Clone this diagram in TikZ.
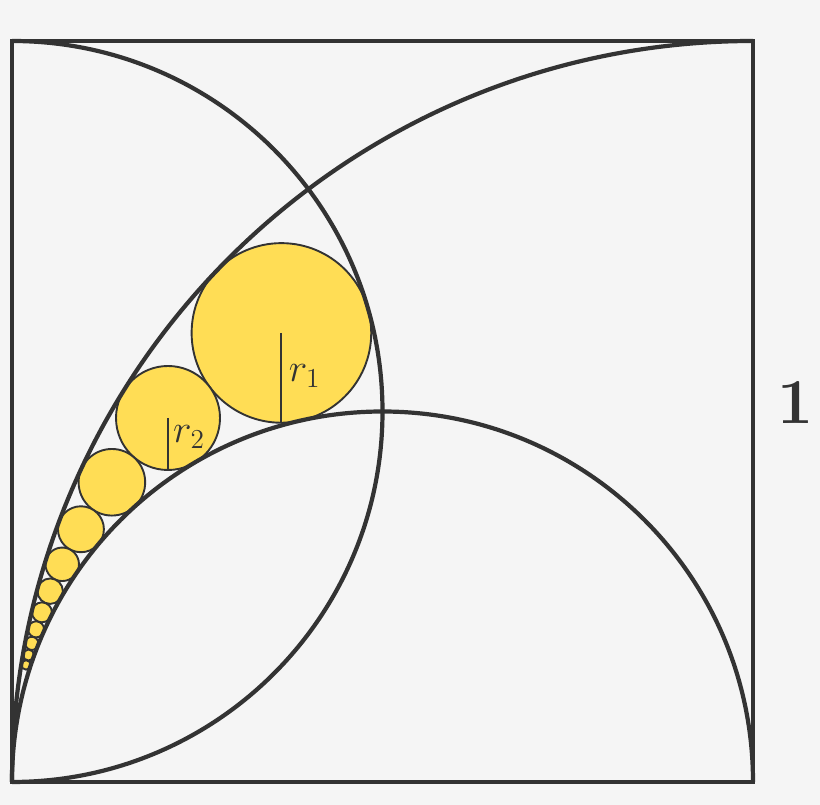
\documentclass[tikz,border=0pt]{standalone}
\usepackage{amsmath}
\definecolor{bg}{HTML}{F5F5F5}
\definecolor{ink}{HTML}{333333}
\definecolor{gold}{HTML}{FFDD55}
\tikzset{
  frame/.style={draw=ink, line width=4.2pt},
  ball/.style={draw=ink, fill=gold, line width=1.9pt},
  radius line/.style={draw=ink, line width=2pt},
  lbl/.style={text=ink, inner sep=0pt},
  mlbl/.style={lbl, font=\fontsize{20}{24}\selectfont, scale=1.9, transform shape},
}
\begin{document}
\begin{tikzpicture}[x=1pt,y=1pt]
\fill[bg] (0,0) rectangle (820,805);
\useasboundingbox (0,0) rectangle (820,805);
\begin{scope}[shift={(12pt,23pt)}, x=741pt, y=741pt]
  % chain circles
  \foreach \k in {0,...,10}{
    \pgfmathsetmacro\yk{1.25+0.5*\k}
    \pgfmathsetmacro\dd{0.5+\yk*\yk}
    \pgfmathsetmacro\cx{0.75/\dd}
    \pgfmathsetmacro\cy{\yk/\dd}
    \pgfmathsetmacro\rr{0.25/\dd}
    \draw[ball] (\cx,\cy) circle[radius=\rr];
  }
  % radii
  \coordinate (c1) at (12/33,20/33);
  \coordinate (b1) at (12/33,16/33);
  \coordinate (c2) at (0.210526,0.491228);
  \coordinate (b2) at (0.210526,0.421053);
  \draw[radius line] (c1) -- (b1);
  \draw[radius line] (c2) -- (b2);
  \node[mlbl, anchor=west] (l1) at (0.373,0.548) {$r_1$};
  \node[mlbl, anchor=west] (l2) at (0.217,0.4656) {$r_2$};
  % frame and arcs
  \draw[frame] (0,0) rectangle (1,1);
  \draw[frame] (1,0) arc[start angle=0, end angle=180, radius=0.5];
  \draw[frame] (0,1) arc[start angle=90, end angle=-90, radius=0.5];
  \draw[frame] (0,0) arc[start angle=180, end angle=90, radius=1];
  \node[lbl, font=\fontsize{64}{72}\selectfont\bfseries] (one) at (1.0567,0.5115) {1};
\end{scope}
\end{tikzpicture}
\end{document}
